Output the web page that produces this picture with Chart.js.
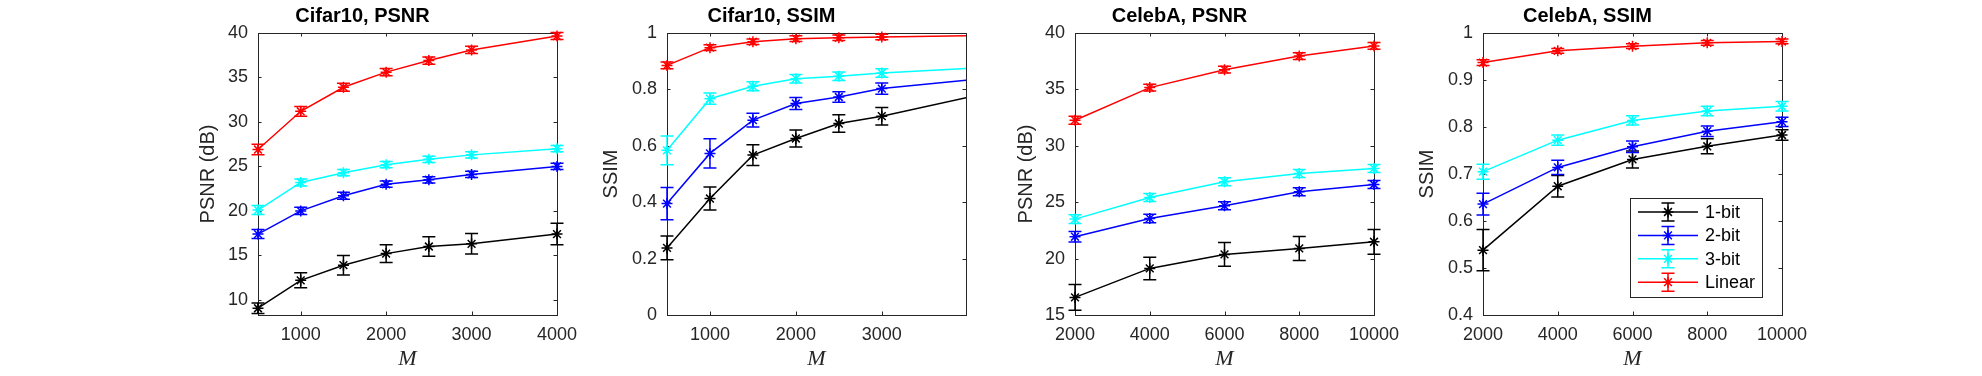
<!DOCTYPE html>
<html><head><meta charset="utf-8">
<script src="https://cdn.jsdelivr.net/npm/chart.js@4"></script>
<style>
html,body{margin:0;padding:0;background:#fff;width:1982px;height:376px;overflow:hidden;}
.p{position:absolute;top:0;width:479px;height:376px;}
</style></head><body>
<div class="p" style="left:168px"><canvas id="c1" width="479" height="376"></canvas></div>
<div class="p" style="left:577px"><canvas id="c2" width="479" height="376"></canvas></div>
<div class="p" style="left:985px"><canvas id="c3" width="479" height="376"></canvas></div>
<div class="p" style="left:1393px"><canvas id="c4" width="479" height="376"></canvas></div>
<script>
// ---------- data ----------
const seriesNames = ['1-bit', '2-bit', '3-bit', 'Linear'];
const seriesColors = ['#000000', '#0000ff', '#00ffff', '#ff0000'];

const mCifar = [500, 1000, 1500, 2000, 2500, 3000, 4000];
const mCeleb = [2000, 4000, 6000, 8000, 10000];

// Cifar10, PSNR
const cifarPsnr1 = [9.06, 12.2, 13.9, 15.2, 16.0, 16.3, 17.4];
const cifarPsnr1Err = [0.6, 0.85, 1.1, 1.0, 1.1, 1.15, 1.2];
const cifarPsnr2 = [17.4, 20.0, 21.7, 23.0, 23.5, 24.1, 25.0];
const cifarPsnr2Err = [0.5, 0.4, 0.4, 0.35, 0.35, 0.35, 0.35];
const cifarPsnr3 = [20.1, 23.2, 24.3, 25.2, 25.8, 26.3, 27.0];
const cifarPsnr3Err = [0.5, 0.4, 0.35, 0.35, 0.35, 0.35, 0.35];
const cifarPsnrLin = [26.9, 31.2, 33.9, 35.6, 36.9, 38.1, 39.66];
const cifarPsnrLinErr = [0.6, 0.55, 0.45, 0.4, 0.4, 0.4, 0.4];

// Cifar10, SSIM
const cifarSsim1 = [0.238, 0.413, 0.567, 0.626, 0.679, 0.705, 0.772];
const cifarSsim1Err = [0.042, 0.041, 0.037, 0.03, 0.031, 0.031, 0.03];
const cifarSsim2 = [0.395, 0.573, 0.691, 0.750, 0.773, 0.803, 0.833];
const cifarSsim2Err = [0.057, 0.052, 0.024, 0.021, 0.019, 0.02, 0.02];
const cifarSsim3 = [0.584, 0.767, 0.811, 0.838, 0.847, 0.858, 0.874];
const cifarSsim3Err = [0.051, 0.02, 0.016, 0.015, 0.015, 0.015, 0.015];
const cifarSsimLin = [0.885, 0.948, 0.969, 0.980, 0.983, 0.986, 0.990];
const cifarSsimLinErr = [0.012, 0.01, 0.01, 0.01, 0.01, 0.01, 0.01];

// CelebA, PSNR
const celebPsnr1 = [16.56, 19.13, 20.37, 20.90, 21.49];
const celebPsnr1Err = [1.14, 1.0, 1.05, 1.06, 1.1];
const celebPsnr2 = [21.94, 23.56, 24.68, 25.92, 26.57];
const celebPsnr2Err = [0.47, 0.38, 0.35, 0.35, 0.35];
const celebPsnr3 = [23.5, 25.42, 26.81, 27.54, 27.99];
const celebPsnr3Err = [0.38, 0.35, 0.35, 0.35, 0.35];
const celebPsnrLin = [32.27, 35.16, 36.75, 37.96, 38.85];
const celebPsnrLinErr = [0.35, 0.3, 0.3, 0.3, 0.3];

// CelebA, SSIM
const celebSsim1 = [0.538, 0.674, 0.731, 0.759, 0.783];
const celebSsim1Err = [0.044, 0.023, 0.018, 0.016, 0.011];
const celebSsim2 = [0.636, 0.714, 0.758, 0.791, 0.811];
const celebSsim2Err = [0.023, 0.015, 0.012, 0.011, 0.01];
const celebSsim3 = [0.705, 0.772, 0.814, 0.834, 0.844];
const celebSsim3Err = [0.016, 0.011, 0.01, 0.01, 0.01];
const celebSsimLin = [0.937, 0.962, 0.972, 0.979, 0.982];
const celebSsimLinErr = [0.006, 0.005, 0.005, 0.005, 0.005];

// ticks
const xTicksCifar = [1000, 2000, 3000, 4000];
const xTickLabelsCifar = ['1000', '2000', '3000', '4000'];
const xTicksCifarSsim = [1000, 2000, 3000];
const xTickLabelsCifarSsim = ['1000', '2000', '3000'];
const xTicksCeleb = [2000, 4000, 6000, 8000, 10000];
const xTickLabelsCeleb = ['2000', '4000', '6000', '8000', '10000'];
const yTicksCifarPsnr = [10, 15, 20, 25, 30, 35, 40];
const yTickLabelsCifarPsnr = ['10', '15', '20', '25', '30', '35', '40'];
const yTicksCifarSsim = [0, 0.2, 0.4, 0.6, 0.8, 1];
const yTickLabelsCifarSsim = ['0', '0.2', '0.4', '0.6', '0.8', '1'];
const yTicksCelebPsnr = [15, 20, 25, 30, 35, 40];
const yTickLabelsCelebPsnr = ['15', '20', '25', '30', '35', '40'];
const yTicksCelebSsim = [0.4, 0.5, 0.6, 0.7, 0.8, 0.9, 1];
const yTickLabelsCelebSsim = ['0.4', '0.5', '0.6', '0.7', '0.8', '0.9', '1'];

// ---------- rendering ----------
const AXC = '#262626';
const FONT = '"Liberation Sans", Arial, Helvetica, sans-serif';
const MARK_R = 5.5;
const CAP = 6.5;

function drawStar(ctx, x, y, r) {
  ctx.beginPath();
  for (let k = 0; k < 4; k++) {
    const a = k * Math.PI / 4;
    const dx = Math.cos(a) * r, dy = Math.sin(a) * r;
    ctx.moveTo(x - dx, y - dy); ctx.lineTo(x + dx, y + dy);
  }
  ctx.stroke();
}

const errorBarPlugin = {
  id: 'errorBars',
  afterDatasetDraw(chart, args) {
    const ds = chart.data.datasets[args.index];
    const meta = args.meta;
    const ys = chart.scales.y, xs = chart.scales.x;
    const ctx = chart.ctx;
    ctx.save();
    ctx.strokeStyle = ds.borderColor;
    ctx.lineWidth = 1.5;
    meta.data.forEach((pt, i) => {
      const d = ds.data[i];
      if (d.x > xs.max || d.x < xs.min) return;
      const e = ds.errors[i];
      const yt = ys.getPixelForValue(d.y + e), yb = ys.getPixelForValue(d.y - e);
      const x = pt.x;
      ctx.beginPath();
      ctx.moveTo(x, yt); ctx.lineTo(x, yb);
      ctx.moveTo(x - CAP, yt); ctx.lineTo(x + CAP, yt);
      ctx.moveTo(x - CAP, yb); ctx.lineTo(x + CAP, yb);
      ctx.stroke();
      drawStar(ctx, x, pt.y, MARK_R);
    });
    ctx.restore();
  }
};

const boxPlugin = {
  id: 'matlabBox',
  beforeDatasetsDraw(chart) {
    const {left, right, top, bottom} = chart.chartArea;
    const ctx = chart.ctx;
    ctx.save();
    ctx.strokeStyle = AXC;
    ctx.lineWidth = 1;
    ctx.strokeRect(Math.round(left) + 0.5, Math.round(top) + 0.5, Math.round(right - left), Math.round(bottom - top));
    const tl = 3.5;
    ctx.beginPath();
    chart.scales.x.ticks.forEach(t => {
      const x = Math.round(chart.scales.x.getPixelForValue(t.value)) + 0.5;
      ctx.moveTo(x, bottom); ctx.lineTo(x, bottom - tl);
      ctx.moveTo(x, top); ctx.lineTo(x, top + tl);
    });
    chart.scales.y.ticks.forEach(t => {
      const y = Math.round(chart.scales.y.getPixelForValue(t.value)) + 0.5;
      ctx.moveTo(left, y); ctx.lineTo(left + tl, y);
      ctx.moveTo(right, y); ctx.lineTo(right - tl, y);
    });
    ctx.stroke();
    ctx.restore();
  }
};

const legendPlugin = {
  id: 'boxLegend',
  afterDraw(chart, args, opts) {
    if (!opts || !opts.show) return;
    const {right, top} = chart.chartArea;
    const ctx = chart.ctx;
    const bx = right - 152, by = top + 165, bw = 132, bh = 99;
    ctx.save();
    ctx.fillStyle = '#fff';
    ctx.fillRect(bx, by, bw, bh);
    ctx.strokeStyle = AXC; ctx.lineWidth = 1;
    ctx.strokeRect(Math.round(bx) + 0.5, Math.round(by) + 0.5, bw, bh);
    ctx.font = '18px ' + FONT;
    ctx.textBaseline = 'middle';
    ctx.textAlign = 'left';
    const n = chart.data.datasets.length;
    for (let i = 0; i < n; i++) {
      const ds = chart.data.datasets[i];
      const y = by + 14 + i * 23.4;
      const x1 = bx + 8, x2 = bx + 68, xm = (x1 + x2) / 2;
      ctx.strokeStyle = ds.borderColor;
      ctx.lineWidth = 1.5;
      ctx.beginPath();
      ctx.moveTo(x1, y); ctx.lineTo(x2, y);
      ctx.moveTo(xm, y - 9); ctx.lineTo(xm, y + 9);
      ctx.moveTo(xm - CAP, y - 9); ctx.lineTo(xm + CAP, y - 9);
      ctx.moveTo(xm - CAP, y + 9); ctx.lineTo(xm + CAP, y + 9);
      ctx.stroke();
      drawStar(ctx, xm, y, MARK_R);
      ctx.fillStyle = '#000';
      ctx.fillText(ds.label, bx + 75, y + 1);
    }
    ctx.restore();
  }
};

function makeChart(id, cfg) {
  const datasets = cfg.series.map((vals, si) => ({
    label: seriesNames[si],
    data: cfg.xs.map((x, i) => ({x: x, y: vals[i]})),
    errors: cfg.errs[si],
    borderColor: seriesColors[si],
    backgroundColor: seriesColors[si],
    borderWidth: 1.5,
    pointRadius: 0,
    pointHoverRadius: 0,
    tension: 0,
    order: 3 - si,
    clip: {left: false, top: false, bottom: false, right: cfg.clipRight ? 0 : false}
  }));
  return new Chart(document.getElementById(id), {
    type: 'line',
    data: {datasets},
    options: {
      responsive: false,
      animation: false,
      devicePixelRatio: 1,
      events: [],
      layout: {padding: {left: 0, right: 90, top: 0, bottom: 0}},
      plugins: {
        legend: {display: false},
        tooltip: {enabled: false},
        title: {
          display: true, text: cfg.title, color: '#000',
          font: {family: FONT, size: 20, weight: 'bold', lineHeight: 1.2},
          padding: {top: 4.5, bottom: 4.5}
        },
        boxLegend: {show: !!cfg.legend}
      },
      scales: {
        x: {
          type: 'linear', min: cfg.xMin, max: cfg.xMax,
          grid: {display: false, drawTicks: false},
          border: {display: false},
          afterBuildTicks: s => { s.ticks = cfg.xTicks.map(v => ({value: v})); },
          afterFit: s => { s.height = 61; },
          ticks: {
            autoSkip: false, maxRotation: 0, padding: 9, color: AXC,
            font: {family: FONT, size: 18},
            callback: (v, i) => cfg.xLabels[i]
          },
          title: {
            display: true, text: 'M', color: AXC,
            font: {family: '"Liberation Serif", "DejaVu Serif", serif', size: 22, style: 'italic', lineHeight: 1.2},
            padding: {top: 0, bottom: 4}
          }
        },
        y: {
          type: 'linear', min: cfg.yMin, max: cfg.yMax,
          grid: {display: false, drawTicks: false},
          border: {display: false},
          afterBuildTicks: s => { s.ticks = cfg.yTicks.map(v => ({value: v})); },
          afterFit: s => { s.width = 90; },
          ticks: {
            autoSkip: false, padding: 10, color: AXC,
            font: {family: FONT, size: 18},
            callback: (v, i) => cfg.yLabels[i]
          },
          title: {
            display: true, text: cfg.yTitle, color: AXC,
            font: {family: FONT, size: 20, lineHeight: 1.2},
            padding: {top: cfg.yTitlePad, bottom: 0}
          }
        }
      }
    },
    plugins: [boxPlugin, errorBarPlugin, legendPlugin]
  });
}

makeChart('c1', {
  title: 'Cifar10, PSNR', yTitle: 'PSNR (dB)', yTitlePad: 28,
  xs: mCifar, xMin: 500, xMax: 4000, xTicks: xTicksCifar, xLabels: xTickLabelsCifar,
  yMin: 8.3, yMax: 40, yTicks: yTicksCifarPsnr, yLabels: yTickLabelsCifarPsnr,
  series: [cifarPsnr1, cifarPsnr2, cifarPsnr3, cifarPsnrLin],
  errs: [cifarPsnr1Err, cifarPsnr2Err, cifarPsnr3Err, cifarPsnrLinErr]
});
makeChart('c2', {
  title: 'Cifar10, SSIM', yTitle: 'SSIM', yTitlePad: 22.7, clipRight: true,
  xs: mCifar, xMin: 500, xMax: 3980, xTicks: xTicksCifarSsim, xLabels: xTickLabelsCifarSsim,
  yMin: 0, yMax: 1, yTicks: yTicksCifarSsim, yLabels: yTickLabelsCifarSsim,
  series: [cifarSsim1, cifarSsim2, cifarSsim3, cifarSsimLin],
  errs: [cifarSsim1Err, cifarSsim2Err, cifarSsim3Err, cifarSsimLinErr]
});
makeChart('c3', {
  title: 'CelebA, PSNR', yTitle: 'PSNR (dB)', yTitlePad: 29.7,
  xs: mCeleb, xMin: 2000, xMax: 10000, xTicks: xTicksCeleb, xLabels: xTickLabelsCeleb,
  yMin: 15, yMax: 40, yTicks: yTicksCelebPsnr, yLabels: yTickLabelsCelebPsnr,
  series: [celebPsnr1, celebPsnr2, celebPsnr3, celebPsnrLin],
  errs: [celebPsnr1Err, celebPsnr2Err, celebPsnr3Err, celebPsnrLinErr]
});
makeChart('c4', {
  title: 'CelebA, SSIM', yTitle: 'SSIM', yTitlePad: 22, legend: true,
  xs: mCeleb, xMin: 2000, xMax: 10000, xTicks: xTicksCeleb, xLabels: xTickLabelsCeleb,
  yMin: 0.4, yMax: 1, yTicks: yTicksCelebSsim, yLabels: yTickLabelsCelebSsim,
  series: [celebSsim1, celebSsim2, celebSsim3, celebSsimLin],
  errs: [celebSsim1Err, celebSsim2Err, celebSsim3Err, celebSsimLinErr]
});
</script>
</body></html>
